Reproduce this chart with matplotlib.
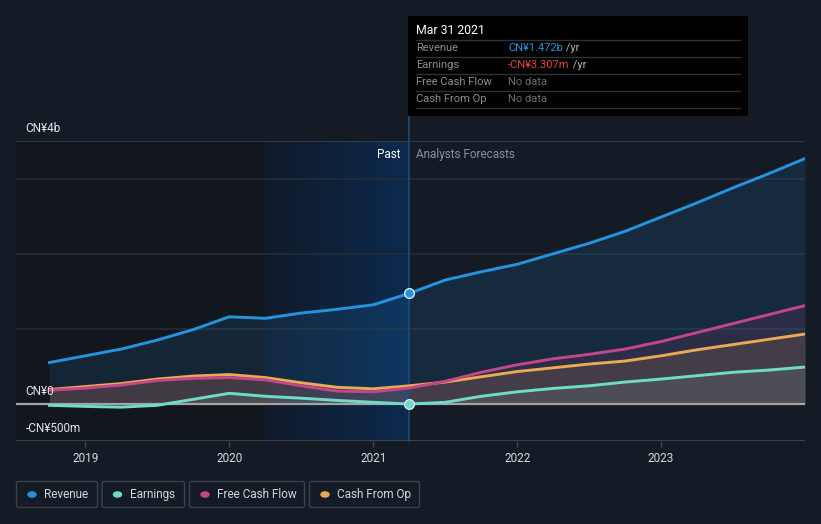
import numpy as np
import matplotlib
matplotlib.use("Agg")
import matplotlib.pyplot as plt
from matplotlib.colors import LinearSegmentedColormap
from matplotlib.patches import Rectangle, FancyBboxPatch, Circle

plt.rcParams["font.family"] = ["Roboto", "DejaVu Sans"]

# data (CN¥ billions), quarterly, decimal years
past_dates = [2018.75, 2019.0, 2019.25, 2019.5, 2019.75, 2020.0,
              2020.25, 2020.5, 2020.75, 2021.0, 2021.25]
revenue_past = [0.55, 0.64, 0.73, 0.85, 0.99, 1.16, 1.14, 1.21, 1.26, 1.32, 1.472]
earnings_past = [-0.02, -0.035, -0.045, -0.02, 0.06, 0.14, 0.10, 0.075, 0.045, 0.02, -0.003]
fcf_past = [0.18, 0.21, 0.25, 0.31, 0.34, 0.35, 0.32, 0.24, 0.17, 0.16, 0.21]
cfo_past = [0.19, 0.23, 0.27, 0.33, 0.37, 0.39, 0.35, 0.28, 0.22, 0.20, 0.24]

fc_dates = [2021.25, 2021.5, 2021.75, 2022.0, 2022.25, 2022.5,
            2022.75, 2023.0, 2023.25, 2023.5, 2023.75, 2024.0]
revenue_fc = [1.472, 1.65, 1.76, 1.86, 2.0, 2.14, 2.30, 2.49, 2.68, 2.88, 3.07, 3.27]
earnings_fc = [-0.003, 0.02, 0.10, 0.16, 0.205, 0.24, 0.29, 0.33, 0.375, 0.42, 0.45, 0.49]
fcf_fc = [0.21, 0.30, 0.42, 0.52, 0.60, 0.66, 0.73, 0.83, 0.95, 1.07, 1.19, 1.31]
cfo_fc = [0.24, 0.29, 0.36, 0.43, 0.48, 0.53, 0.57, 0.64, 0.72, 0.79, 0.86, 0.93]

years = [2019, 2020, 2021, 2022, 2023]
y_labels = [(3.5, "CN¥4b"), (0, "CN¥0"), (-0.5, "-CN¥500m")]

series = [
    ("Revenue", "#2394df", revenue_past, revenue_fc),
    ("Earnings", "#6fdcc8", earnings_past, earnings_fc),
    ("Free Cash Flow", "#c4468a", fcf_past, fcf_fc),
    ("Cash From Op", "#e9a955", cfo_past, cfo_fc),
]

BG = "#151b25"
W, H = 821, 524


def fx(px):
    return px / W


def fy(py):
    return 1 - py / H


fig = plt.figure(figsize=(W / 100, H / 100), dpi=100, facecolor=BG)
ax = fig.add_axes([fx(16), fy(441.3), 789 / W, 300 / H])
ax.set_facecolor(BG)
ax.set_xlim(2018.518, 2024.0)
ax.set_ylim(-0.5, 3.5)
for s in ax.spines.values():
    s.set_visible(False)

# past shading
ax.axvspan(2018.518, 2020.25, color="#12161d", zorder=0, lw=0)
grad = LinearSegmentedColormap.from_list("g", ["#111a2a", "#0c2a4e"])
ax.imshow(np.linspace(0, 1, 256).reshape(1, -1), cmap=grad, aspect="auto",
          extent=[2020.25, 2021.25, -0.5, 3.5], zorder=0.5)

# grid
for g in [1, 2, 3]:
    ax.axhline(g, color="#252c38", lw=1.2, zorder=1)
ax.axhline(3.5, color="#3a3f49", lw=1.2, zorder=1)
ax.axhline(-0.5, color="#454a54", lw=1.2, zorder=1)

# series
for name, col, past, fc in series:
    d = past_dates + fc_dates[1:]
    v = past + fc[1:]
    ax.fill_between(d, 0, v, color=col, alpha=0.13, lw=0, zorder=2)
for name, col, past, fc in series[::-1]:
    d = past_dates + fc_dates[1:]
    v = past + fc[1:]
    ax.plot(d, v, color=col, lw=2.1, zorder=4, solid_joinstyle="round")

ax.axhline(0, color="#a3a3a3", lw=1.6, zorder=3)

# today line + markers
ax.axvline(2021.25, ymin=0, ymax=(441.3 - 116) / 300, color="#1d4a78",
           lw=1.2, clip_on=False, zorder=3)
ax.plot(2021.25, revenue_past[-1], "o", ms=7, mfc="#2394df", mec="#dde6ee",
        mew=1, zorder=6)
ax.plot(2021.25, earnings_past[-1], "o", ms=7, mfc="#6fdcc8", mec="#dde6ee",
        mew=1, zorder=6)

ax.text(2021.25 - 0.06, 3.32, "Past", color="#ffffff", fontsize=8.5,
        ha="right", va="center", zorder=7)
ax.text(2021.25 + 0.05, 3.32, "Analysts Forecasts", color="#8b9099",
        fontsize=8.5, ha="left", va="center", zorder=7)

# axes labels
ax.set_yticks([])
ax.set_xticks(years)
ax.set_xticklabels([str(y) for y in years])
ax.tick_params(axis="x", colors="#3f444d", length=4, width=1, pad=4,
               labelcolor="#d6d8db", labelsize=8.5)
for val, lab in y_labels:
    ax.annotate(lab, xy=(0, val), xycoords=("axes fraction", "data"),
                xytext=(7, 9), textcoords="offset points", color="#e6e7e9",
                fontsize=8.5, ha="left", va="center", zorder=7)

# tooltip
fig.add_artist(Rectangle((fx(408), fy(116)), 340 / W, 100 / H,
                         transform=fig.transFigure, facecolor="#000000",
                         edgecolor="none", zorder=10))
fig.text(fx(416), fy(31), "Mar 31 2021", color="#ffffff", fontsize=8.8,
         va="center", zorder=11)
rows = [
    ("Revenue", "CN¥1.472b", "#2394df", " /yr"),
    ("Earnings", "-CN¥3.307m", "#e8413f", " /yr"),
    ("Free Cash Flow", "No data", "#6a6e75", ""),
    ("Cash From Op", "No data", "#6a6e75", ""),
]
for i, (lab, val, vc, unit) in enumerate(rows):
    yy = 48 + 17 * i
    sep = 40 + 17 * i
    fig.add_artist(plt.Line2D([fx(416), fx(740)], [fy(sep), fy(sep)],
                              transform=fig.transFigure, color="#2e3136",
                              lw=1, zorder=11))
    fig.text(fx(416), fy(yy), lab, color="#8a8e94", fontsize=8,
             va="center", zorder=11)
    t = fig.text(fx(508), fy(yy), val, color=vc, fontsize=8,
                 va="center", zorder=11)
    if unit:
        fig.canvas.draw()
        bb = t.get_window_extent()
        fig.text(bb.x1 / W, fy(yy), unit, color="#b5b8bc", fontsize=8,
                 va="center", zorder=11)
fig.add_artist(plt.Line2D([fx(416), fx(740)], [fy(108), fy(108)],
                          transform=fig.transFigure, color="#2e3136",
                          lw=1, zorder=11))

# legend
boxes = [(16.5, 97.5), (102, 184.5), (189.5, 304.5), (309.5, 419.5)]
for (x0, x1), (name, col, _, _) in zip(boxes, series):
    fig.add_artist(FancyBboxPatch((fx(x0), fy(507.5)), (x1 - x0) / W, 26 / H,
                                  boxstyle="round,pad=0,rounding_size=0.003",
                                  transform=fig.transFigure, facecolor="none",
                                  edgecolor="#3b4049", lw=1))
    fig.add_artist(Circle((fx(x0 + 15.5), fy(494.5)), 4 / W,
                          transform=fig.transFigure, color=col))
    fig.text(fx(x0 + 27.5), fy(494.5), name, color="#d3d5d8", fontsize=8.5,
             va="center")

fig.savefig("out.png", dpi=100, facecolor=BG)
